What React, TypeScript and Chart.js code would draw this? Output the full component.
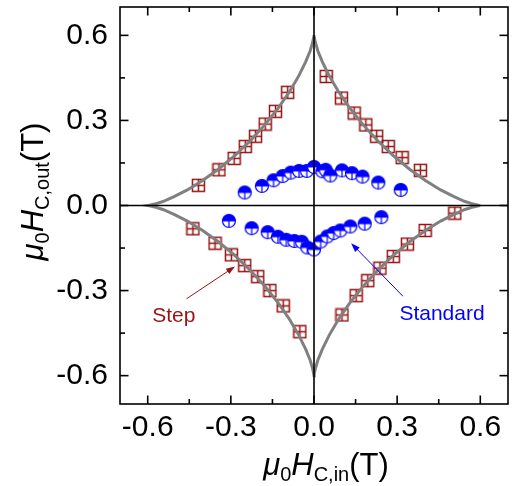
import React, { useEffect, useRef } from "react";
import { Chart, registerables } from "chart.js";

Chart.register(...registerables);

const AXIS_MIN = -0.7;
const AXIS_MAX = 0.7;
const majorTicks = [-0.6, -0.3, 0, 0.3, 0.6];
const minorTicks = [-0.45, -0.15, 0.15, 0.45];

// Switching boundary (gray line), closed loop
const boundaryX = [
  0.6, 0.594, 0.575, 0.545, 0.505, 0.457, 0.402, 0.345, 0.286, 0.229, 0.176, 0.128, 0.088, 0.055, 0.031, 0.014, 0.005, 0.001, 0.0,
  -0.001, -0.005, -0.014, -0.031, -0.055, -0.088, -0.128, -0.176, -0.229, -0.286, -0.345, -0.402, -0.457, -0.505, -0.545, -0.575, -0.594, -0.6,
  -0.594, -0.575, -0.545, -0.505, -0.457, -0.402, -0.345, -0.286, -0.229, -0.176, -0.128, -0.088, -0.055, -0.031, -0.014, -0.005, -0.001, 0.0,
  0.001, 0.005, 0.014, 0.031, 0.055, 0.088, 0.128, 0.176, 0.229, 0.286, 0.345, 0.402, 0.457, 0.505, 0.545, 0.575, 0.594, 0.6,
];
const boundaryY = [
  0.0, 0.001, 0.005, 0.014, 0.031, 0.055, 0.088, 0.128, 0.176, 0.229, 0.286, 0.345, 0.402, 0.457, 0.505, 0.545, 0.575, 0.594, 0.6,
  0.594, 0.575, 0.545, 0.505, 0.457, 0.402, 0.345, 0.286, 0.229, 0.176, 0.128, 0.088, 0.055, 0.031, 0.014, 0.005, 0.001, 0.0,
  -0.001, -0.005, -0.014, -0.031, -0.055, -0.088, -0.128, -0.176, -0.229, -0.286, -0.345, -0.402, -0.457, -0.505, -0.545, -0.575, -0.594, -0.6,
  -0.594, -0.575, -0.545, -0.505, -0.457, -0.402, -0.345, -0.286, -0.229, -0.176, -0.128, -0.088, -0.055, -0.031, -0.014, -0.005, -0.001, 0.0,
];

// "Step" measurements (dark red crossed squares)
const stepX = [
  -0.417, -0.343, -0.288, -0.248, -0.211, -0.176, -0.139, -0.095,
  0.044, 0.099, 0.145, 0.187, 0.226, 0.268, 0.318, 0.384,
  -0.437, -0.357, -0.298, -0.25, -0.203, -0.159, -0.111, -0.051,
  0.508, 0.401, 0.337, 0.286, 0.238, 0.194, 0.152, 0.101,
];
const stepY = [
  0.071, 0.126, 0.166, 0.208, 0.244, 0.287, 0.332, 0.399,
  0.455, 0.379, 0.326, 0.284, 0.244, 0.208, 0.169, 0.124,
  -0.082, -0.133, -0.174, -0.212, -0.251, -0.3, -0.354, -0.445,
  -0.027, -0.088, -0.136, -0.18, -0.221, -0.265, -0.318, -0.386,
];

// "Standard" measurements (blue half-filled circles)
const standardX = [
  -0.25, -0.188, -0.146, -0.113, -0.084, -0.054, -0.026, 0.0, 0.03, 0.042, 0.059, 0.101, 0.137, 0.175, 0.232, 0.313,
  -0.307, -0.225, -0.167, -0.13, -0.1, -0.071, -0.044, -0.024, 0.0, 0.024, 0.048, 0.071, 0.095, 0.131, 0.183, 0.243,
];
const standardY = [
  0.046, 0.069, 0.089, 0.104, 0.116, 0.122, 0.122, 0.136, 0.121, 0.126, 0.106, 0.124, 0.114, 0.102, 0.081, 0.055,
  -0.054, -0.08, -0.094, -0.11, -0.121, -0.125, -0.128, -0.148, -0.155, -0.127, -0.109, -0.097, -0.088, -0.074, -0.064, -0.041,
];

// annotation anchors (data units)
const stepArrow = { from: [-0.46, -0.329], to: [-0.285, -0.215] };
const stepLabel = { text: "Step", at: [-0.506, -0.41] };
const standardArrow = { from: [0.321, -0.32], to: [0.134, -0.133] };
const standardLabel = { text: "Standard", at: [0.462, -0.404] };

const FONT = "'Liberation Sans', Arial, Helvetica, sans-serif";
const STEP_COLOR = "rgb(150,20,20)";
const STD_COLOR = "#0000ff";

function makeStepMarker(): HTMLCanvasElement {
  const s = 15;
  const c = document.createElement("canvas");
  c.width = s;
  c.height = s;
  const g = c.getContext("2d")!;
  g.strokeStyle = STEP_COLOR;
  g.lineWidth = 1.5;
  g.strokeRect(1.5, 1.5, 12, 12);
  g.beginPath();
  g.moveTo(7.5, 2);
  g.lineTo(7.5, 13);
  g.moveTo(2, 7.5);
  g.lineTo(13, 7.5);
  g.stroke();
  return c;
}

function makeStdMarker(): HTMLCanvasElement {
  const s = 16;
  const c = document.createElement("canvas");
  c.width = s;
  c.height = s;
  const g = c.getContext("2d")!;
  const cx = 8, cy = 8, r = 6.5;
  g.fillStyle = "#ffffff";
  g.beginPath();
  g.arc(cx, cy, r, 0, Math.PI * 2);
  g.fill();
  g.fillStyle = STD_COLOR;
  g.beginPath();
  g.arc(cx, cy, r, Math.PI, Math.PI * 2);
  g.closePath();
  g.fill();
  g.strokeStyle = STD_COLOR;
  g.lineWidth = 1.2;
  g.beginPath();
  g.arc(cx, cy, r, 0, Math.PI * 2);
  g.stroke();
  g.beginPath();
  g.moveTo(cx - r, cy);
  g.lineTo(cx + r, cy);
  g.moveTo(cx, cy);
  g.lineTo(cx, cy + r);
  g.stroke();
  return c;
}

type Seg = { t: string; it?: boolean; sub?: boolean };

function drawRich(ctx: CanvasRenderingContext2D, segs: Seg[], cx: number, baseline: number, size: number, subSize: number) {
  const fontOf = (s: Seg) => `${s.it ? "italic " : ""}${s.sub ? subSize : size}px ${FONT}`;
  let total = 0;
  const widths = segs.map((s) => {
    ctx.font = fontOf(s);
    const w = ctx.measureText(s.t).width;
    total += w;
    return w;
  });
  let x = cx - total / 2;
  ctx.textAlign = "left";
  ctx.textBaseline = "alphabetic";
  segs.forEach((s, i) => {
    ctx.font = fontOf(s);
    ctx.fillText(s.t, x, baseline + (s.sub ? size * 0.2 : 0));
    x += widths[i];
  });
}

function drawArrow(ctx: CanvasRenderingContext2D, x1: number, y1: number, x2: number, y2: number, color: string) {
  const ang = Math.atan2(y2 - y1, x2 - x1);
  const len = 9, half = 3.2;
  ctx.strokeStyle = color;
  ctx.fillStyle = color;
  ctx.lineWidth = 1;
  ctx.beginPath();
  ctx.moveTo(x1, y1);
  ctx.lineTo(x2 - Math.cos(ang) * len * 0.8, y2 - Math.sin(ang) * len * 0.8);
  ctx.stroke();
  ctx.beginPath();
  ctx.moveTo(x2, y2);
  ctx.lineTo(x2 - Math.cos(ang) * len - Math.sin(ang) * half, y2 - Math.sin(ang) * len + Math.cos(ang) * half);
  ctx.lineTo(x2 - Math.cos(ang) * len + Math.sin(ang) * half, y2 - Math.sin(ang) * len - Math.cos(ang) * half);
  ctx.closePath();
  ctx.fill();
}

const decorPlugin = {
  id: "decor",
  afterDatasetsDraw(chart: any) {
    const { ctx, chartArea, scales } = chart;
    const { left, right, top, bottom } = chartArea;
    const xs = scales.x, ys = scales.y;
    ctx.save();
    ctx.strokeStyle = "#000";
    ctx.lineWidth = 1.6;
    const line = (a: number, b: number, c: number, d: number) => {
      ctx.beginPath();
      ctx.moveTo(a, b);
      ctx.lineTo(c, d);
      ctx.stroke();
    };
    const x0 = xs.getPixelForValue(0);
    const y0 = ys.getPixelForValue(0);
    line(left, y0, right, y0);
    line(x0, top, x0, bottom);
    ctx.strokeRect(left, top, right - left, bottom - top);
    const tick = (v: number, l: number) => {
      const px = xs.getPixelForValue(v);
      line(px, bottom, px, bottom - l);
      line(px, top, px, top + l);
      const py = ys.getPixelForValue(v);
      line(left, py, left + l, py);
      line(right, py, right - l, py);
    };
    majorTicks.forEach((v) => tick(v, 8.5));
    minorTicks.forEach((v) => tick(v, 5));

    // annotations
    const P = (p: number[]) => [xs.getPixelForValue(p[0]), ys.getPixelForValue(p[1])];
    const [sa, sb] = [P(stepArrow.from), P(stepArrow.to)];
    drawArrow(ctx, sa[0], sa[1], sb[0], sb[1], STEP_COLOR);
    const [ta, tb] = [P(standardArrow.from), P(standardArrow.to)];
    drawArrow(ctx, ta[0], ta[1], tb[0], tb[1], STD_COLOR);
    ctx.font = `21px ${FONT}`;
    ctx.textAlign = "center";
    ctx.textBaseline = "alphabetic";
    const sl = P(stepLabel.at);
    ctx.fillStyle = STEP_COLOR;
    ctx.fillText(stepLabel.text, sl[0], sl[1]);
    const tl = P(standardLabel.at);
    ctx.fillStyle = STD_COLOR;
    ctx.fillText(standardLabel.text, tl[0], tl[1]);

    // axis titles
    ctx.fillStyle = "#000";
    const xTitle: Seg[] = [{ t: "μ", it: true }, { t: "0", sub: true }, { t: "H", it: true }, { t: "C,in", sub: true }, { t: "(T)" }];
    drawRich(ctx, xTitle, (left + right) / 2 + 12, 475, 31, 20);
    const yTitle: Seg[] = [{ t: "μ", it: true }, { t: "0", sub: true }, { t: "H", it: true }, { t: "C,out", sub: true }, { t: "(T)" }];
    ctx.save();
    ctx.translate(43, (top + bottom) / 2 - 14);
    ctx.rotate(-Math.PI / 2);
    drawRich(ctx, yTitle, 0, 0, 31, 20);
    ctx.restore();
    ctx.restore();
  },
};

const zeroPadding = (s: any) => {
  s.paddingLeft = 0;
  s.paddingRight = 0;
  s.paddingTop = 0;
  s.paddingBottom = 0;
};

export default function App() {
  const ref = useRef<HTMLCanvasElement | null>(null);
  useEffect(() => {
    if (!ref.current) return;
    const stepMarker = makeStepMarker();
    const stdMarker = makeStdMarker();
    const tickFmt = (v: any) => Number(v).toFixed(1);
    const chart = new Chart(ref.current, {
      type: "scatter",
      data: {
        datasets: [
          {
            label: "Boundary",
            data: boundaryX.map((x, i) => ({ x, y: boundaryY[i] })),
            showLine: true,
            borderColor: "rgb(128,128,128)",
            borderWidth: 3,
            pointRadius: 0,
            tension: 0,
            fill: false,
          },
          {
            label: "Step",
            data: stepX.map((x, i) => ({ x, y: stepY[i] })),
            pointStyle: stepMarker as any,
            pointRadius: 6,
          },
          {
            label: "Standard",
            data: standardX.map((x, i) => ({ x, y: standardY[i] })),
            pointStyle: stdMarker as any,
            pointRadius: 6,
          },
        ],
      },
      options: {
        responsive: false,
        animation: false,
        devicePixelRatio: 1,
        layout: { padding: { top: 7, right: 3, left: 0, bottom: 0 } },
        plugins: { legend: { display: false }, tooltip: { enabled: false } },
        scales: {
          x: {
            type: "linear",
            min: AXIS_MIN,
            max: AXIS_MAX,
            grid: { display: false, drawTicks: false },
            border: { display: false },
            afterBuildTicks: (s: any) => {
              s.ticks = majorTicks.map((v) => ({ value: v }));
            },
            afterFit: (s: any) => {
              s.height = 82;
              zeroPadding(s);
            },
            ticks: { font: { family: FONT, size: 30 }, color: "#000", padding: 6, maxRotation: 0, autoSkip: false, callback: tickFmt },
          },
          y: {
            type: "linear",
            min: AXIS_MIN,
            max: AXIS_MAX,
            grid: { display: false, drawTicks: false },
            border: { display: false },
            afterBuildTicks: (s: any) => {
              s.ticks = majorTicks.map((v) => ({ value: v }));
            },
            afterFit: (s: any) => {
              s.width = 120;
              zeroPadding(s);
            },
            ticks: { font: { family: FONT, size: 30 }, color: "#000", padding: 12, autoSkip: false, callback: tickFmt },
          },
        },
      },
      plugins: [decorPlugin],
    });
    return () => chart.destroy();
  }, []);
  return (
    <div style={{ position: "fixed", left: 0, top: 0, width: 515, height: 486, background: "#fff" }}>
      <canvas ref={ref} width={515} height={486} style={{ width: 515, height: 486, display: "block" }} />
    </div>
  );
}
